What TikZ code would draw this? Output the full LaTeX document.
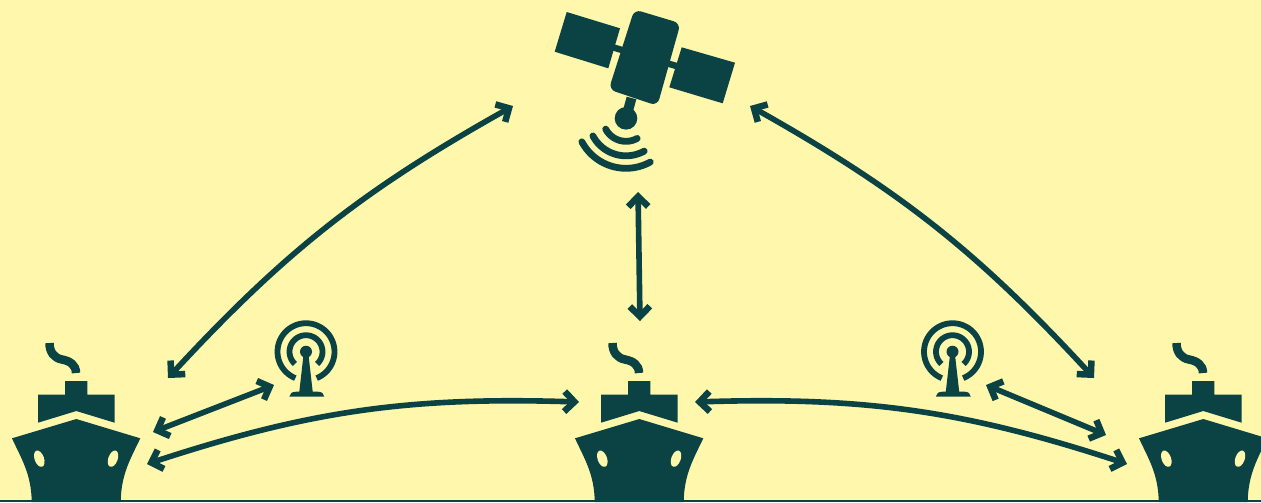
\documentclass[tikz,border=0pt]{standalone}
\usetikzlibrary{arrows.meta}
\definecolor{bgc}{HTML}{FFF7AC}
\definecolor{dk}{HTML}{0B4345}
\tikzset{
  x=0.01cm,y=-0.01cm,
  link/.style={draw=dk,line width=0.056cm,{Straight Barb[length=0.1cm,width=0.2cm,line width=0.065cm]}-{Straight Barb[length=0.1cm,width=0.2cm,line width=0.065cm]}},
  ship/.pic={
    \draw[dk,line width=0.085cm] (49.5,343) .. controls (49.5,352) and (54,358) .. (62,359.5) .. controls (70,361) and (76,365) .. (76,373);
    \fill[dk] (65,381) -- (87.3,381) -- (87.3,394.7) -- (114.7,394.7) -- (114.7,422.7) -- (76.3,411) -- (38,422.7) -- (38,394.7) -- (65,394.7) -- cycle;
    \fill[dk] (76.3,419) -- (140.3,438.3) .. controls (131,458) and (121,474) .. (120.7,502) -- (31.7,502) .. controls (31.5,474) and (21,458) .. (12,438.3) -- cycle;
    \fill[bgc,rotate around={20:(39.3,458.7)}] (39.3,458.7) ellipse [x radius=0.047cm,y radius=0.085cm];
    \fill[bgc,rotate around={-20:(113,458.7)}] (113,458.7) ellipse [x radius=0.047cm,y radius=0.085cm];
  },
  mast/.pic={
    \draw[dk,line width=0.058cm,variable=\t,samples=60,domain=112:428] plot ({28.5*cos(\t)},{28.5*sin(\t)});
    \draw[dk,line width=0.058cm,variable=\t,samples=40,domain=132:408] plot ({16.5*cos(\t)},{16.5*sin(\t)});
    \fill[dk] (0,0) circle [radius=0.06cm];
    \fill[dk] (-2.7,5) -- (2.7,5) -- (6.7,40) -- (12,40) .. controls (16,40) and (18,42) .. (18.3,45) -- (-16.7,45) .. controls (-16.4,42) and (-14,40) .. (-10,40) -- (-6.7,40) -- cycle;
  }
}
\begin{document}
\begin{tikzpicture}
\useasboundingbox (0,0) rectangle (1261,502);
\clip (0,0) rectangle (1261,502);
\fill[bgc] (0,0) rectangle (1261,502);
\fill[dk] (0,500) rectangle (1261,502);
% satellite
\draw[dk,line width=0.065cm] (605,45) -- (690,70);
\fill[dk] (566.7,12) -- (620,28.3) -- (608.3,68.3) -- (554.7,51.7) -- cycle;
\fill[dk] (681.7,47.3) -- (735,62.7) -- (722.7,103.3) -- (669.3,87.3) -- cycle;
\filldraw[dk,line width=0.02cm,rounded corners=0.06cm] (635,10.7) -- (679.3,24) -- (656.7,104.5) -- (610,88.8) -- cycle;
\draw[dk,line width=0.1cm] (631.5,98) -- (626,118);
\fill[dk] (626,118.3) circle [radius=0.113cm];
\foreach \r in {23,37.5,50}{
  \draw[dk,line width=0.068cm,line cap=round,variable=\t,samples=30,domain=61:152] plot ({626+\r*cos(\t)},{118.3+\r*sin(\t)});
}
% ships and masts
\pic at (0,0) {ship};
\pic at (563,0) {ship};
\pic at (1127,0) {ship};
\pic at (306,351.7) {mast};
\pic at (952.5,351.7) {mast};
% connector ends
\coordinate (satL) at (513,106);
\coordinate (satR) at (750,106);
\coordinate (satB) at (638,192);
\coordinate (shipLa) at (168,378);
\coordinate (shipRa) at (1094,378);
\coordinate (shipCa) at (640,321);
\coordinate (shipLb) at (153,432);
\coordinate (mastLe) at (274,385);
\coordinate (shipLc) at (147,464);
\coordinate (shipCl) at (579,402);
\coordinate (shipCr) at (695,402);
\coordinate (shipRc) at (1127,464);
\coordinate (mastRe) at (986,385);
\coordinate (shipRb) at (1106,435);
\draw[link] (shipLa) to[bend left=9] (satL);
\draw[link] (satR) to[bend left=9] (shipRa);
\draw[link] (satB) -- (shipCa);
\draw[link] (shipLb) -- (mastLe);
\draw[link] (mastRe) -- (shipRb);
\draw[link] (shipLc) to[bend left=10] (shipCl);
\draw[link] (shipCr) to[bend left=10] (shipRc);
\end{tikzpicture}
\end{document}
